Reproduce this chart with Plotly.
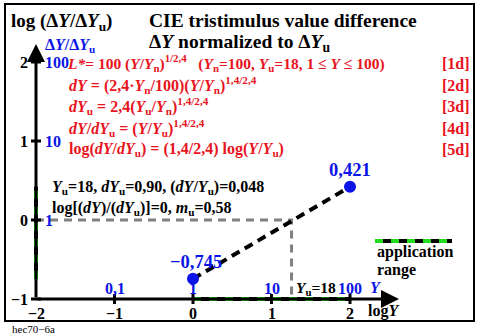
import math
import plotly.graph_objects as go

# ---- data ----
log_Y_pts = [0.0, 2.0]            # log Y at Y=1 and Y=100
log_ratio_pts = [-0.745, 0.421]   # log(dY/dYu)
pt_labels = ["\u22120,745", "0,421"]
Y_u = 18
x_ticks = [-2, -1, 0, 1, 2]
x_tick_text = ["\u22122", "\u22121", "0", "1", "2"]
x_blue_ticks = [-1, 0, 1, 2]
x_blue_text = ["0,1", "1", "10", "100"]
y_ticks = [-1, 0, 1, 2]
y_tick_text = ["\u22121", "0", "1", "2"]
y_blue_ticks = [0, 1, 2]
y_blue_text = ["1", "10", "100"]
app_x = [0, 2]
app_y = [-0.745, 0.421]

W, H = 481, 336
X0PX, XSC = 193, 78.5
Y0PY, YSC = 220, 79
xr = [-X0PX / XSC, (W - X0PX) / XSC]
yr = [(Y0PY - H) / YSC, Y0PY / YSC]

def px(x):
    return (x - X0PX) / XSC

def py(y):
    return (Y0PY - y) / YSC

FONT = "Liberation Serif, Times New Roman, serif"
RED = "#e8141e"
BLUE = "#0a14e6"
GREEN = "#22dd22"
GRAY = "#808080"

fig = go.Figure()
log_Yu = math.log10(Y_u)

# gray dashed reference lines
fig.add_trace(go.Scatter(x=[x_ticks[0], log_Yu, log_Yu], y=[0, 0, y_ticks[0]], mode="lines",
                         line=dict(color=GRAY, width=3, dash="8px,6px"), hoverinfo="skip"))

# application range on axes: green base + black dashes
for xs, ys in [(app_x, [y_ticks[0]] * 2), ([x_ticks[0]] * 2, app_y)]:
    fig.add_trace(go.Scatter(x=xs, y=ys, mode="lines", line=dict(color="black", width=4), hoverinfo="skip"))
    fig.add_trace(go.Scatter(x=xs, y=ys, mode="lines", line=dict(color=GREEN, width=4, dash="8px,8px"), hoverinfo="skip"))

# data line
fig.add_trace(go.Scatter(x=log_Y_pts, y=log_ratio_pts, mode="lines",
                         line=dict(color="black", width=4, dash="9px,6px"), hoverinfo="skip"))
fig.add_trace(go.Scatter(x=log_Y_pts, y=log_ratio_pts, mode="markers",
                         marker=dict(color=BLUE, size=12), hoverinfo="skip"))

# legend sample
lx = [px(375), px(452)]
ly = [py(241), py(241)]
fig.add_trace(go.Scatter(x=lx, y=ly, mode="lines", line=dict(color="black", width=4), hoverinfo="skip"))
fig.add_trace(go.Scatter(x=lx, y=ly, mode="lines", line=dict(color=GREEN, width=4, dash="8px,8px"), hoverinfo="skip"))

shapes = []
# frame
shapes.append(dict(type="rect", x0=px(5), x1=px(474), y0=py(4), y1=py(321),
                   line=dict(color="black", width=2)))
# ticks
for t in x_ticks[1:]:
    shapes.append(dict(type="line", x0=t, x1=t, y0=y_ticks[0] - 5 / YSC, y1=y_ticks[0] + 5 / YSC,
                       line=dict(color="black", width=3)))
for t in y_ticks:
    shapes.append(dict(type="line", x0=x_ticks[0] - 5 / XSC, x1=x_ticks[0] + 5 / XSC, y0=t, y1=t,
                       line=dict(color="black", width=3)))

anns = []
# axes with arrows
anns.append(dict(x=px(399), y=y_ticks[0], ax=x_ticks[0], ay=y_ticks[0], xref="x", yref="y", axref="x", ayref="y",
                 showarrow=True, arrowhead=2, arrowsize=1.2, arrowwidth=3, arrowcolor="black", text=""))
anns.append(dict(x=x_ticks[0], y=py(44), ax=x_ticks[0], ay=y_ticks[0], xref="x", yref="y", axref="x", ayref="y",
                 showarrow=True, arrowhead=2, arrowsize=1.2, arrowwidth=3, arrowcolor="black", text=""))

def txt(x, y, s, color="black", size=16, xanchor="left", yanchor="middle", bold=True):
    anns.append(dict(x=x, y=y, xref="x", yref="y", text=("<b>%s</b>" % s) if bold else s,
                     showarrow=False, xanchor=xanchor, yanchor=yanchor,
                     font=dict(family=FONT, size=size, color=color)))

NB = "\u00a0"
txt(px(9), py(22), "log (\u0394<i>Y</i>/\u0394<i>Y</i><sub>u</sub>)", size=19)
txt(px(147), py(20), "CIE tristimulus value difference", size=19.5)
txt(px(147), py(43), "\u0394<i>Y</i> normalized to \u0394<i>Y</i><sub>u</sub>", size=19.5)
txt(px(43), py(45), "\u0394<i>Y</i>/\u0394<i>Y</i><sub>u</sub>", color=BLUE, size=16)

formulas = [
    "<i>L*</i>= 100 (<i>Y</i>/<i>Y</i><sub>n</sub>)<sup>1/2,4</sup>" + NB * 3 +
    "(<i>Y</i><sub>n</sub>=100, <i>Y</i><sub>u</sub>=18, 1 \u2264 <i>Y</i> \u2264 100)",
    "<i>dY</i> = (2,4\u00b7<i>Y</i><sub>n</sub>/100)(<i>Y</i>/<i>Y</i><sub>n</sub>)<sup>1,4/2,4</sup>",
    "<i>dY</i><sub>u</sub> = 2,4(<i>Y</i><sub>u</sub>/<i>Y</i><sub>n</sub>)<sup>1,4/2,4</sup>",
    "<i>dY</i>/<i>dY</i><sub>u</sub> = (<i>Y</i>/<i>Y</i><sub>u</sub>)<sup>1,4/2,4</sup>",
    "log(<i>dY</i>/<i>dY</i><sub>u</sub>) = (1,4/2,4) log(<i>Y</i>/<i>Y</i><sub>u</sub>)",
]
fy = [63, 85, 106, 128, 149]
for i, (f, yy) in enumerate(zip(formulas, fy)):
    txt(px(67 if i else 65), py(yy), f, color=RED, size=16 if i else 15.5)
    txt(px(472), py(yy), "[%dd]" % (i + 1), color=RED, size=16, xanchor="right")

txt(px(50), py(187), "<i>Y</i><sub>u</sub>=18, <i>dY</i><sub>u</sub>=0,90, (<i>dY</i>/<i>Y</i><sub>u</sub>)=0,048", size=16)
txt(px(50), py(208), "log[(<i>dY</i>)/(<i>dY</i><sub>u</sub>)]=0, <i>m</i><sub>u</sub>=0,58", size=16)

# point labels
txt(log_Y_pts[0] + 0.04, log_ratio_pts[0] + 0.21, pt_labels[0], color=BLUE, size=18.5, xanchor="center")
txt(log_Y_pts[1] + 0.0, log_ratio_pts[1] + 0.21, pt_labels[1], color=BLUE, size=18.5, xanchor="center")

# axis tick labels
for t, s in zip(x_ticks, x_tick_text):
    txt(t, py(313), s, size=16, xanchor="center")
for t, s in zip(x_blue_ticks, x_blue_text):
    txt(t, py(288), s, color=BLUE, size=16, xanchor="center")
txt(px(368), py(287), "<i>Y</i>", color=BLUE, size=16)
txt(px(294), py(288), "<i>Y</i><sub>u</sub>=18", size=15.5)
txt(px(366), py(311), "log<i>Y</i>", size=16)
for t, s in zip(y_ticks, y_tick_text):
    txt(px(30), t, s, size=16, xanchor="right")
for t, s in zip(y_blue_ticks, y_blue_text):
    txt(px(43), t, s, color=BLUE, size=16)

txt(px(375), py(252), "application", size=16)
txt(px(375), py(270), "range", size=16)
txt(px(10), py(329), "hec70\u22126a", size=11, bold=False)

fig.update_layout(
    width=W, height=H, margin=dict(l=0, r=0, t=0, b=0),
    paper_bgcolor="white", plot_bgcolor="white", showlegend=False,
    xaxis=dict(range=xr, visible=False, fixedrange=True),
    yaxis=dict(range=yr, visible=False, fixedrange=True),
    shapes=shapes, annotations=anns,
)
fig.write_html("out.html")
